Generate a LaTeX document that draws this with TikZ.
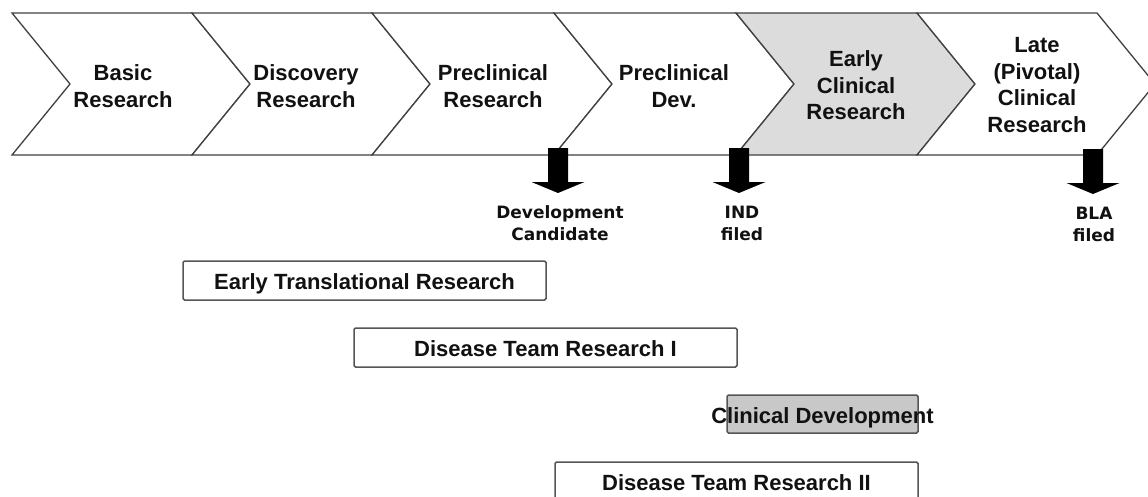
\documentclass[tikz,border=0pt]{standalone}
\usepackage{fontspec}
\setmainfont{Liberation Sans}
\newfontfamily\dejavu{DejaVu Sans}
\definecolor{linegray}{HTML}{404040}
\definecolor{boxline}{HTML}{555555}
\definecolor{chevgray}{HTML}{DCDCDC}
\definecolor{cdgray}{HTML}{C8C8C8}
\definecolor{ink}{HTML}{111111}
\begin{document}
\begin{tikzpicture}[x=1pt,y=-1pt,
  chev/.style={draw=linegray, line width=1.3pt, fill=white, line join=miter},
  chevtext/.style={align=center, text=ink, inner sep=0pt, font=\fontsize{22}{26.5}\selectfont\bfseries},
  miletext/.style={align=center, text=ink, inner sep=0pt, font=\fontsize{17}{22}\selectfont\dejavu\bfseries},
  bar/.style={draw=boxline, line width=1.5pt, rounded corners=1.5pt, fill=white,
    minimum height=39pt, text height=18pt, text depth=0pt, inner sep=0pt, text=ink,
    font=\fontsize{22}{26}\selectfont\bfseries},
  darr/.pic={\fill[black] (-10,0) -- (10,0) -- (10,34) -- (26.5,34) -- (0,45) -- (-26.5,34) -- (-10,34) -- cycle;}
]
\useasboundingbox (0,0) rectangle (1148,496);

% chevrons
\draw[chev] (12,13) -- (192,13) -- (250,84) -- (192,155) -- (12,155) -- (70,84) -- cycle;
\draw[chev] (192,13) -- (372,13) -- (430,84) -- (372,155) -- (192,155) -- (250,84) -- cycle;
\draw[chev] (372,13) -- (554,13) -- (612,84) -- (554,155) -- (372,155) -- (430,84) -- cycle;
\draw[chev] (554,13) -- (736,13) -- (794,84) -- (736,155) -- (554,155) -- (612,84) -- cycle;
\draw[chev, fill=chevgray] (736,13) -- (917,13) -- (975,84) -- (917,155) -- (736,155) -- (794,84) -- cycle;
\draw[chev] (917,13) -- (1097,13) -- (1155,84) -- (1097,155) -- (917,155) -- (975,84) -- cycle;

\node[chevtext] (c1) at (123,86) {Basic\\Research};
\node[chevtext] (c2) at (306,86) {Discovery\\Research};
\node[chevtext] (c3) at (493,86) {Preclinical\\Research};
\node[chevtext] (c4) at (674,86) {Preclinical\\Dev.};
\node[chevtext] (c5) at (856,85.5) {Early\\Clinical\\Research};
\node[chevtext] (c6) at (1037,85) {Late\\(Pivotal)\\Clinical\\Research};

% milestone arrows
\pic at (558,148) {darr};
\pic at (739,148) {darr};
\pic at (1093,149) {darr};

\node[miletext] (m1) at (560,223.5) {Development\\Candidate};
\node[miletext] (m2) at (742,223.5) {IND\\filed};
\node[miletext] (m3) at (1094,224.5) {BLA\\filed};

% programme bars
\node[bar, minimum width=363pt] (etr) at (364.5,280.5) {Early Translational Research};
\node[bar, minimum width=383pt] (dtr1) at (545.5,347.5) {Disease Team Research I};
\node[bar, minimum width=191pt, minimum height=38pt, fill=cdgray] (cd) at (822.5,414) {\makebox[0pt]{Clinical Development}};
\node[bar, minimum width=363pt] (dtr2) at (736.5,481.5) {Disease Team Research II};
\end{tikzpicture}
\end{document}
